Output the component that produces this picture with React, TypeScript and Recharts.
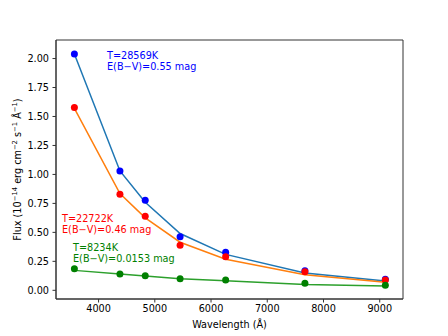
import { Customized, Line, LineChart, ReferenceArea, XAxis, YAxis } from "recharts";

// effective wavelengths of the filters (Å)
const wavelengths = [3570, 4380, 4830, 5450, 6260, 7670, 9100];

// observed fluxes (points) and model fits (lines), 1e-14 erg/cm2/s/Å
const hotObs = [2.04, 1.03, 0.777, 0.463, 0.328, 0.169, 0.095];
const hotModel = [2.04, 1.03, 0.76, 0.49, 0.31, 0.15, 0.08];
const midObs = [1.577, 0.829, 0.639, 0.389, 0.29, 0.161, 0.089];
const midModel = [1.57, 0.835, 0.625, 0.415, 0.268, 0.135, 0.069];
const coolObs = [0.187, 0.141, 0.126, 0.1, 0.089, 0.06, 0.043];
const coolModel = [0.172, 0.14, 0.124, 0.1, 0.082, 0.051, 0.037];

const xTicks = [4000, 5000, 6000, 7000, 8000, 9000];
const yTicks = [0, 0.25, 0.5, 0.75, 1.0, 1.25, 1.5, 1.75, 2.0];
const xDomain = [3243, 9414];
const yDomain = [-0.075, 2.16];

const data = wavelengths.map((w, i) => ({
  w,
  hotObs: hotObs[i],
  hotModel: hotModel[i],
  midObs: midObs[i],
  midModel: midModel[i],
  coolObs: coolObs[i],
  coolModel: coolModel[i],
}));

const FONT = "DejaVu Sans";
const FS = 9.7;
const AXIS = "#333";

function Annotations() {
  const sup = { fontSize: 6.8 };
  return (
    <g fontFamily={FONT} fontSize={FS}>
      <text x={107} y={59} fill="blue">T=28569K</text>
      <text x={107} y={70} fill="blue">E(B−V)=0.55 mag</text>
      <text x={62} y={221.5} fill="red">T=22722K</text>
      <text x={62} y={232.5} fill="red">E(B−V)=0.46 mag</text>
      <text x={73} y={250.5} fill="green">T=8234K</text>
      <text x={73} y={261.5} fill="green">E(B−V)=0.0153 mag</text>
      <text x={229.5} y={327.5} textAnchor="middle" fill="#000">
        Wavelength (Å)
      </text>
      <text
        x={0}
        y={0}
        textAnchor="middle"
        fill="#000"
        transform="translate(20.5,169.5) rotate(-90)"
      >
        Flux (10
        <tspan dy={-4} {...sup}>−14</tspan>
        <tspan dy={4}> erg cm</tspan>
        <tspan dy={-4} {...sup}>−2</tspan>
        <tspan dy={4}> s</tspan>
        <tspan dy={-4} {...sup}>−1</tspan>
        <tspan dy={4}> Å</tspan>
        <tspan dy={-4} {...sup}>−1</tspan>
        <tspan dy={4}>)</tspan>
      </text>
    </g>
  );
}

const tick = { fontSize: FS, fontFamily: FONT, fill: "#000" };

export default function App() {
  return (
    <div style={{ position: "absolute", left: 0, top: 0 }}>
      <LineChart
        width={448}
        height={336}
        data={data}
        margin={{ top: 40, right: 45, bottom: 0, left: 0 }}
      >
        <XAxis
          dataKey="w"
          type="number"
          domain={xDomain}
          ticks={xTicks}
          allowDataOverflow
          height={37}
          tick={tick}
          tickSize={3.5}
          tickMargin={3}
          stroke={AXIS}
        />
        <YAxis
          type="number"
          domain={yDomain}
          ticks={yTicks}
          allowDataOverflow
          width={56}
          tick={tick}
          tickSize={3.5}
          tickMargin={3.5}
          stroke={AXIS}
          tickFormatter={(v: number) => v.toFixed(2)}
        />
        <ReferenceArea
          x1={xDomain[0]}
          x2={xDomain[1]}
          y1={yDomain[0]}
          y2={yDomain[1]}
          fill="none"
          stroke={AXIS}
          strokeWidth={1}
        />
        {/* each star: observed points, then its model curve on top */}
        <Line dataKey="hotObs" stroke="none" dot={{ r: 3.5, fill: "blue", stroke: "none" }} activeDot={false} isAnimationActive={false} />
        <Line dataKey="hotModel" stroke="#1f77b4" strokeWidth={1.5} dot={false} activeDot={false} isAnimationActive={false} />
        <Line dataKey="midObs" stroke="none" dot={{ r: 3.5, fill: "red", stroke: "none" }} activeDot={false} isAnimationActive={false} />
        <Line dataKey="midModel" stroke="#ff7f0e" strokeWidth={1.5} dot={false} activeDot={false} isAnimationActive={false} />
        <Line dataKey="coolObs" stroke="none" dot={{ r: 3.5, fill: "green", stroke: "none" }} activeDot={false} isAnimationActive={false} />
        <Line dataKey="coolModel" stroke="#2ca02c" strokeWidth={1.5} dot={false} activeDot={false} isAnimationActive={false} />
        <Customized component={<Annotations />} />
      </LineChart>
    </div>
  );
}
